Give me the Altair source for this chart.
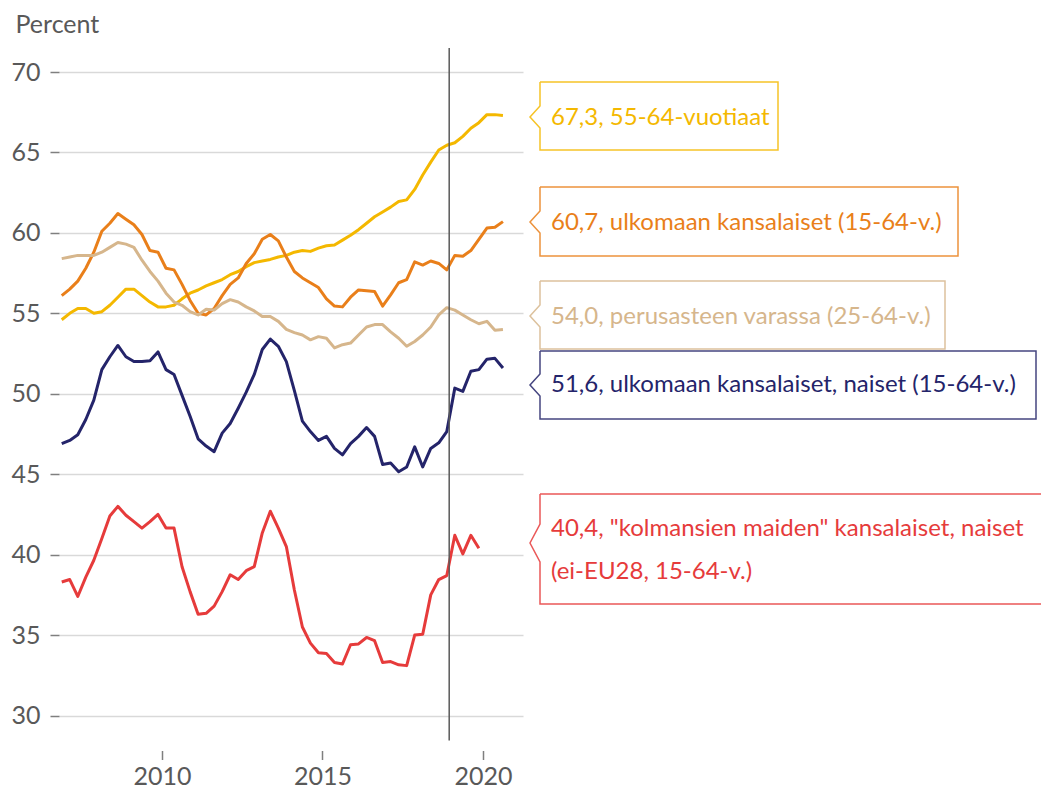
import altair as alt
import pandas as pd

# Quarterly periods 2007Q1 ... 2020Q4 (decimal-year position of each quarter)
quarters = [2006.875 + 0.25 * i for i in range(56)]

vuotiaat_55_64 = [54.6, 55.0, 55.3, 55.3, 55.0, 55.1, 55.5, 56.0, 56.5, 56.5,
                  56.1, 55.7, 55.4, 55.4, 55.5, 55.9, 56.25, 56.45, 56.7, 56.9,
                  57.1, 57.4, 57.6, 57.9, 58.15, 58.25, 58.35, 58.5, 58.6, 58.8,
                  58.9, 58.85, 59.05, 59.2, 59.25, 59.55, 59.85, 60.2, 60.6, 61.0,
                  61.3, 61.6, 61.95, 62.05, 62.7, 63.6, 64.4, 65.15, 65.45, 65.6,
                  66.0, 66.5, 66.85, 67.35, 67.35, 67.3]
ulkomaan = [56.1, 56.5, 57.0, 57.8, 58.8, 60.1, 60.6, 61.2, 60.85, 60.5,
            59.9, 58.9, 58.8, 57.8, 57.7, 56.8, 55.8, 55.0, 54.9, 55.3,
            56.1, 56.8, 57.2, 58.1, 58.7, 59.6, 59.9, 59.5, 58.5, 57.6,
            57.2, 56.9, 56.6, 55.9, 55.45, 55.4, 56.0, 56.45, 56.4, 56.35,
            55.45, 56.15, 56.9, 57.1, 58.2, 58.0, 58.25, 58.1, 57.7, 58.6,
            58.55, 58.9, 59.6, 60.3, 60.35, 60.7]
perusaste = [58.4, 58.5, 58.6, 58.6, 58.6, 58.8, 59.1, 59.4, 59.3, 59.1,
             58.3, 57.6, 57.0, 56.25, 55.7, 55.5, 55.1, 54.9, 55.25, 55.2,
             55.6, 55.85, 55.7, 55.4, 55.15, 54.8, 54.8, 54.5, 54.0, 53.8,
             53.65, 53.35, 53.55, 53.45, 52.85, 53.05, 53.15, 53.65, 54.15, 54.3,
             54.3, 53.85, 53.45, 52.95, 53.25, 53.65, 54.15, 54.9, 55.35, 55.2,
             54.9, 54.6, 54.35, 54.5, 53.95, 54.0]
ulkomaan_naiset = [46.9, 47.1, 47.45, 48.4, 49.6, 51.5, 52.3, 53.0, 52.3, 52.0,
                   52.0, 52.05, 52.6, 51.5, 51.2, 49.9, 48.6, 47.2, 46.75, 46.4,
                   47.55, 48.15, 49.1, 50.1, 51.2, 52.75, 53.4, 52.95, 52.0, 50.2,
                   48.3, 47.65, 47.1, 47.35, 46.6, 46.2, 46.9, 47.35, 47.9, 47.35,
                   45.6, 45.7, 45.15, 45.45, 46.7, 45.45, 46.6, 46.95, 47.65, 50.35,
                   50.15, 51.4, 51.5, 52.15, 52.2, 51.6]
kolmannet_naiset = [38.3, 38.45, 37.4, 38.6, 39.65, 41.0, 42.4, 43.0, 42.45, 42.05,
                    41.65, 42.05, 42.5, 41.65, 41.65, 39.25, 37.7, 36.3, 36.35, 36.8,
                    37.7, 38.75, 38.45, 39.0, 39.25, 41.35, 42.7, 41.65, 40.5, 37.8,
                    35.5, 34.5, 33.9, 33.85, 33.3, 33.2, 34.4, 34.45, 34.85, 34.65,
                    33.3, 33.35, 33.15, 33.1, 35.0, 35.05, 37.5, 38.45, 38.7, 41.2,
                    40.05, 41.2, 40.4]

series_names = ["55-64", "ulkomaan", "perusaste", "ulkomaan_naiset", "kolmannet_naiset"]
series_values = [vuotiaat_55_64, ulkomaan, perusaste, ulkomaan_naiset, kolmannet_naiset]
colors = ["#F4B800", "#E97F1A", "#D6B68C", "#24246A", "#E63B3B"]

label_texts = [
    ["67,3, 55-64-vuotiaat"],
    ["60,7, ulkomaan kansalaiset (15-64-v.)"],
    ["54,0, perusasteen varassa (25-64-v.)"],
    ["51,6, ulkomaan kansalaiset, naiset (15-64-v.)"],
    ["40,4, \"kolmansien maiden\" kansalaiset, naiset", "(ei-EU28, 15-64-v.)"],
]

marker_t = 2018.95  # vertical reference line

rows = []
for name, vals in zip(series_names, series_values):
    for t, v in zip(quarters, vals):
        rows.append({"t": t, "value": v, "series": name})
df = pd.DataFrame(rows)

# ---- layout (page pixels) ----
W, H = 464, 643.5
X0, X1 = 2006.79, 2021.25
PLOT_LEFT, PLOT_TOP = 59, 72


def px_to_t(px):
    return X0 + (px - PLOT_LEFT) / W * (X1 - X0)


def py_to_v(py):
    return 70 - (py - PLOT_TOP) / H * 40


# callout boxes: (top, bottom, tip_y, right, notch half-height, text line centres)
boxes = [
    (82, 150, 117, 778, 11, [118]),
    (187, 256, 222, 958, 11, [223]),
    (281, 349, 316, 945, 11, [317]),
    (351, 419, 385, 1036, 11, [385]),
    (494, 604, 543, 1070, 19, [529, 572]),
]
BOX_LEFT, TIP_X, TEXT_X = 540, 530, 551

poly_rows, text_rows = [], []
for name, (top, bot, tip, right, nh, tys), texts in zip(series_names, boxes, label_texts):
    pts = [(BOX_LEFT, top), (right, top), (right, bot), (BOX_LEFT, bot),
           (BOX_LEFT, tip + nh), (TIP_X, tip), (BOX_LEFT, tip - nh), (BOX_LEFT, top)]
    for k, (px, py) in enumerate(pts):
        poly_rows.append({"t": px_to_t(px), "value": py_to_v(py), "series": name, "k": k})
    for txt, ty in zip(texts, tys):
        text_rows.append({"t": px_to_t(TEXT_X), "value": py_to_v(ty), "series": name, "label": txt})
poly_df = pd.DataFrame(poly_rows)
text_df = pd.DataFrame(text_rows)

FONT = "Lato"
x_scale = alt.Scale(domain=[X0, X1], nice=False, zero=False)
y_scale = alt.Scale(domain=[30, 70], nice=False, zero=False)
color_scale = alt.Scale(domain=series_names, range=colors)

x_axis = alt.Axis(values=[2010, 2015, 2020], format="d", grid=False, domain=False,
                  offset=35, tickSize=9, tickColor="#7f7f7f", tickWidth=1.5,
                  labelFontSize=25, labelColor="#595959", labelFont=FONT,
                  labelPadding=5, title=None)
y_axis = alt.Axis(values=list(range(30, 71, 5)), grid=True, gridColor="#d9d9d9",
                  gridWidth=1.5, domain=False, tickSize=9, tickColor="#7f7f7f",
                  tickWidth=1.5, labelFontSize=25, labelColor="#595959",
                  labelFont=FONT, labelPadding=10,
                  title="Percent", titleAngle=0, titleAlign="left",
                  titleBaseline="alphabetic", titleX=-44, titleY=-40,
                  titleFontSize=25, titleFontWeight="normal",
                  titleColor="#595959", titleFont=FONT)

lines = alt.Chart(df).mark_line(strokeWidth=3, strokeJoin="round").encode(
    x=alt.X("t:Q", scale=x_scale, axis=x_axis),
    y=alt.Y("value:Q", scale=y_scale, axis=y_axis),
    color=alt.Color("series:N", scale=color_scale, legend=None),
)

rule = alt.Chart(pd.DataFrame({"t": [marker_t]})).mark_rule(
    color="#595959", strokeWidth=1.5
).encode(
    x=alt.X("t:Q", scale=x_scale, axis=x_axis),
    y=alt.value(-24),
    y2=alt.value(H + 25),
)

callouts = alt.Chart(poly_df).mark_line(strokeWidth=1.5, opacity=0.85).encode(
    x=alt.X("t:Q", scale=x_scale, axis=x_axis),
    y=alt.Y("value:Q", scale=y_scale, axis=y_axis),
    order=alt.Order("k:Q"),
    detail="series:N",
    color=alt.Color("series:N", scale=color_scale, legend=None),
)

texts = alt.Chart(text_df).mark_text(
    align="left", baseline="middle", fontSize=24, font=FONT
).encode(
    x=alt.X("t:Q", scale=x_scale, axis=x_axis),
    y=alt.Y("value:Q", scale=y_scale, axis=y_axis),
    text="label:N",
    color=alt.Color("series:N", scale=color_scale, legend=None),
)

chart = alt.layer(lines, rule, callouts, texts).properties(
    width=W, height=H,
    autosize=alt.AutoSizeParams(type="none"),
    padding={"left": 51, "top": 64, "right": 518, "bottom": 75},
    background="white",
).configure_view(stroke=None)

chart.save("out.html", embed_options={"renderer": "svg", "actions": False})
